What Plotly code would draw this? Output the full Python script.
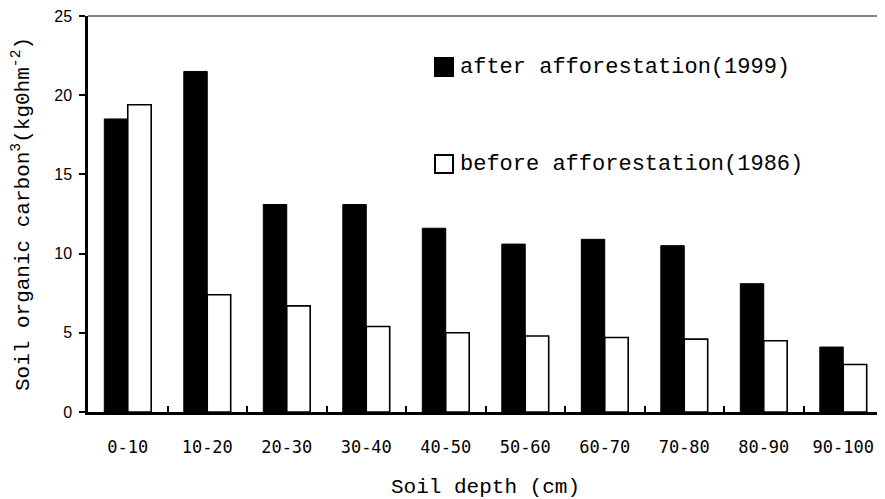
import plotly.graph_objects as go

depths = ["0-10", "10-20", "20-30", "30-40", "40-50", "50-60", "60-70", "70-80", "80-90", "90-100"]
after_1999 = [18.5, 21.5, 13.1, 13.1, 11.6, 10.6, 10.9, 10.5, 8.1, 4.1]
before_1986 = [19.4, 7.4, 6.7, 5.4, 5.0, 4.8, 4.7, 4.6, 4.5, 3.0]
series_names = ["after afforestation(1999)", "before afforestation(1986)"]

FONT = "Liberation Mono"
OFF = 8  # page body margin in the browser
W, H = 885 - OFF, 499 - OFF
L, R, T, B = 88 - OFF, 2, 16 - OFF, 87
pw, ph = W - L - R, H - T - B

fig = go.Figure()
fig.add_trace(go.Bar(
    x=depths, y=after_1999, name=series_names[0],
    marker=dict(color="black", line=dict(color="black", width=1)),
))
fig.add_trace(go.Bar(
    x=depths, y=before_1986, name=series_names[1],
    marker=dict(color="white", line=dict(color="black", width=1.6)),
))

# custom legend (large square swatches like the reference); page pixel coords
def px_x(x):
    return (x - OFF - L) / pw

def px_y(y):
    return 1 - (y - OFF - T) / ph

GRAY = "#808080"
shapes = [
    dict(type="line", xref="paper", yref="paper", x0=0, x1=1, y0=1, y1=1,
         line=dict(color=GRAY, width=2), layer="above"),
    dict(type="line", xref="paper", yref="paper", x0=1, x1=1, y0=0, y1=1,
         line=dict(color=GRAY, width=2), layer="above"),
]
annotations = []
legend_rows = [(58, "black"), (155, "white")]
for (top, fill), name in zip(legend_rows, series_names):
    shapes.append(dict(type="rect", xref="paper", yref="paper",
                       x0=px_x(435), x1=px_x(453), y0=px_y(top + 18), y1=px_y(top),
                       fillcolor=fill, line=dict(color="black", width=2)))
    annotations.append(dict(xref="paper", yref="paper", x=px_x(458), y=px_y(top + 9),
                            xanchor="left", yanchor="middle", showarrow=False,
                            text=name, font=dict(family=FONT, size=22, color="black")))

fig.update_layout(
    width=W, height=H,
    margin=dict(l=L, r=R, t=T, b=B, autoexpand=False),
    paper_bgcolor="white", plot_bgcolor="white",
    barmode="group", bargap=0.41, bargroupgap=0,
    font=dict(family=FONT, color="black", size=16),
    showlegend=False,
    shapes=shapes,
    annotations=annotations,
)

fig.update_xaxes(
    type="category", tickson="boundaries", ticks="inside", ticklen=6,
    tickwidth=2, tickcolor="black",
    showline=True, linecolor="black", linewidth=2.5,
    showgrid=False, zeroline=False,
    ticklabelstandoff=18,
    tickfont=dict(family="DejaVu Sans Mono", size=17),
    title=dict(text="Soil depth (cm)", font=dict(family=FONT, size=21), standoff=23),
)
fig.update_yaxes(
    range=[0, 25], dtick=5, ticks="outside", ticklen=6, tickwidth=2, tickcolor="black",
    showline=True, linecolor="black", linewidth=2.5,
    showgrid=False, zeroline=False,
    ticklabelstandoff=4, ticklabeloverflow="allow",
    tickfont=dict(family="Liberation Sans", size=16),
    title=dict(text="Soil organic carbon<sup>3</sup>(kg0hm<sup>-2</sup>)",
               font=dict(family=FONT, size=21), standoff=22),
)

fig.write_html("out.html")
